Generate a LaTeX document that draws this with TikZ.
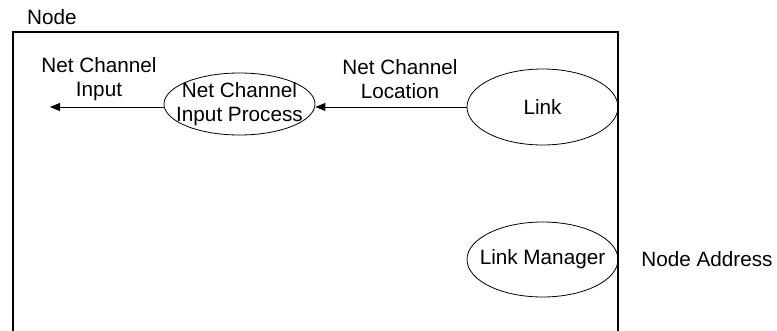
\documentclass[tikz,border=0pt]{standalone}
\usepackage{fontspec}
\setmainfont{Liberation Sans}
\usetikzlibrary{shapes.geometric,arrows.meta}
\begin{document}
\begin{tikzpicture}[x=1pt,y=-1pt,
  every node/.style={font=\fontsize{20.7}{24.5}\selectfont, inner sep=0pt},
  every label/.style={align=center, inner sep=0pt},
  proc/.style={ellipse, draw, line width=0.8pt, minimum width=151pt},
  txt/.style={align=center},
  flow/.style={-{Triangle[length=10pt,width=8pt]}, line width=0.9pt}]
\useasboundingbox (0,0) rectangle (777,331);
\draw[line width=1.4pt] (13,331) -- (13,32) -- (618,32) -- (618,331);
\node[anchor=west] (nodelbl) at (27,17) {Node};
\node[proc, minimum height=62pt, label={center:Net Channel\\Input Process}] (ncip) at (239.5,104) {};
\node[proc, minimum height=76pt, label={center:Link}] (link) at (542.5,107) {};
\node[proc, minimum height=75pt, label={center:Link Manager}] (lm) at (542.5,259.5) {};
\node (na) at (707,259) {Node Address};
\coordinate (out) at (50,107);
\draw[flow] (link.west) -- (link.west -| ncip.east);
\draw[flow] (ncip.west |- out) -- (out);
\node[txt] (lblin) at (99,79) {Net Channel\\Input};
\node[txt] (lblloc) at (400,79) {Net Channel\\Location};
\end{tikzpicture}
\end{document}
